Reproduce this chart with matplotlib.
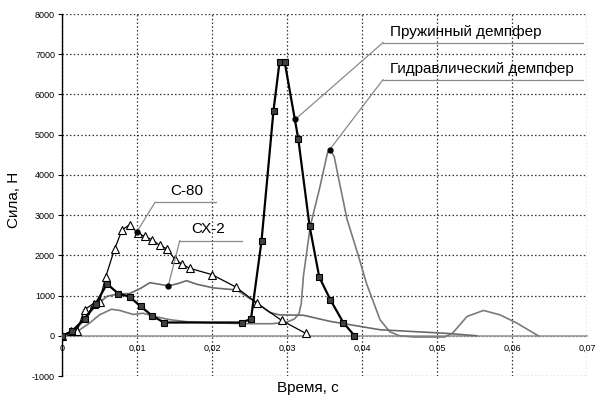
import matplotlib
matplotlib.use("Agg")
import matplotlib.pyplot as plt

plt.rcParams['font.family'] = ['Liberation Sans', 'DejaVu Sans']

# ---- data ----
spring_t = [0, 0.0013, 0.003, 0.0045, 0.006, 0.0075, 0.009, 0.0105, 0.012, 0.0136,
            0.024, 0.0252, 0.0266, 0.0282, 0.0290, 0.0297, 0.0315, 0.033, 0.0343,
            0.0358, 0.0375, 0.039]
spring_f = [0, 110, 420, 800, 1290, 1050, 970, 730, 500, 330,
            330, 420, 2350, 5600, 6800, 6800, 4900, 2740, 1460,
            890, 330, 0]

c80_t = [0, 0.0012, 0.002, 0.003, 0.0042, 0.005, 0.0058, 0.007, 0.008, 0.009, 0.0101,
         0.011, 0.012, 0.013, 0.014, 0.015, 0.016, 0.017, 0.020, 0.0232, 0.026,
         0.0293, 0.0325]
c80_f = [0, 110, 120, 650, 800, 850, 1450, 2150, 2630, 2760, 2560,
         2470, 2390, 2250, 2160, 1910, 1780, 1680, 1520, 1210, 810,
         380, 60]

cx2_t = [0, 0.0015, 0.003, 0.0045, 0.006, 0.0075, 0.009, 0.0105, 0.0117, 0.013,
         0.0142, 0.0155, 0.0166, 0.018, 0.0202, 0.0233, 0.026, 0.0277, 0.029,
         0.0322, 0.0357, 0.0424, 0.0513, 0.0553]
cx2_f = [0, 100, 400, 750, 980, 1040, 1050, 1180, 1320, 1280,
         1240, 1300, 1370, 1280, 1190, 1140, 810, 580, 520,
         510, 360, 150, 60, 0]

hyd_t = [0, 0.002, 0.0037, 0.005, 0.0066, 0.0077, 0.0095, 0.0108, 0.0126, 0.0144,
         0.0166, 0.020, 0.025, 0.028, 0.030, 0.031, 0.0316, 0.0319, 0.0322, 0.0331,
         0.0344, 0.0354, 0.0358, 0.0363, 0.037, 0.038, 0.0395, 0.0406, 0.0424, 0.0437, 0.045,
         0.047, 0.051, 0.0521, 0.054, 0.0562, 0.0584, 0.0607, 0.0635]
hyd_f = [0, 100, 320, 520, 660, 630, 530, 560, 470, 400,
         350, 320, 300, 300, 340, 420, 550, 800, 1500, 2720,
         3710, 4550, 4630, 4450, 3800, 2900, 2000, 1300, 400, 100, 0,
         -30, -30, 70, 480, 630, 520, 310, 0]

xticks = [0, 0.01, 0.02, 0.03, 0.04, 0.05, 0.06, 0.07]
xtick_labels = ['0', '0,01', '0,02', '0,03', '0,04', '0,05', '0,06', '0,07']
yticks = [-1000, 0, 1000, 2000, 3000, 4000, 5000, 6000, 7000, 8000]
ytick_labels = ['-1000', '0', '1000', '2000', '3000', '4000', '5000', '6000', '7000', '8000']

# annotations: (label, text pos, underline x range/y, target point)
ann_c80 = ('С-80', (0.0144, 3420), (0.0124, 0.0205, 3316), (0.0100, 2590))
ann_cx2 = ('СХ-2', (0.0173, 2470), (0.0157, 0.0240, 2363), (0.01417, 1244))
ann_spr = ('Пружинный демпфер', (0.0437, 7390), (0.0428, 0.0695, 7289), (0.0311, 5380))
ann_hyd = ('Гидравлический демпфер', (0.0437, 6470), (0.0428, 0.0695, 6368), (0.0357, 4630))

# ---- figure ----
fig = plt.figure(figsize=(5.99, 3.97), dpi=100)
ax = fig.add_axes([62/599, 1-376/397, (587-62)/599, (376-14)/397])
ax.set_xlim(0, 0.07)
ax.set_ylim(-1000, 8000)

ax.plot(hyd_t, hyd_f, color='#7a7a7a', lw=1.2, zorder=3)
ax.plot(cx2_t, cx2_f, color='#6a6a6a', lw=1.2, zorder=3)
ax.plot(c80_t, c80_f, color='black', lw=0.9, marker='^', ms=6,
        mfc='white', mec='black', mew=0.8, zorder=4)
ax.plot(spring_t, spring_f, color='black', lw=1.6, marker='s', ms=5,
        mfc='#404040', mec='black', mew=0.8, zorder=5)

for label, tpos, (ux0, ux1, uy), (px, py) in (ann_c80, ann_cx2, ann_spr, ann_hyd):
    ax.plot([ux0, ux1], [uy, uy], color='#8a8a8a', lw=0.9, zorder=6, clip_on=False)
    ax.plot([ux0, px], [uy, py], color='#8a8a8a', lw=0.9, zorder=6, clip_on=False)
    ax.plot([px], [py], 'o', color='black', ms=3.5, zorder=7)
    ax.text(tpos[0], tpos[1], label, fontsize=11, ha='left', va='bottom', zorder=7)

ax.set_xticks(xticks)
ax.set_xticklabels(xtick_labels)
ax.set_yticks(yticks)
ax.set_yticklabels(ytick_labels)
ax.tick_params(axis='both', labelsize=6.5)
ax.tick_params(axis='x', length=0, pad=6)
ax.tick_params(axis='y', length=3, width=0.8, pad=2)

ax.grid(True, color='#333333', linestyle=(0, (1.2, 1.8)), lw=0.9)
ax.set_axisbelow(True)

for s in ('top', 'right'):
    ax.spines[s].set_visible(False)
ax.spines['bottom'].set_position(('data', 0))
ax.spines['bottom'].set_color('#9a9a9a')
ax.spines['bottom'].set_linewidth(1.2)
ax.spines['left'].set_linewidth(1.0)

fig.text(308/599, 1-388/397, 'Время, с', fontsize=11, ha='center', va='center')
fig.text(14/599, 1-200/397, 'Сила, Н', fontsize=11, ha='center', va='center', rotation=90)

fig.savefig('out.png', dpi=100)
